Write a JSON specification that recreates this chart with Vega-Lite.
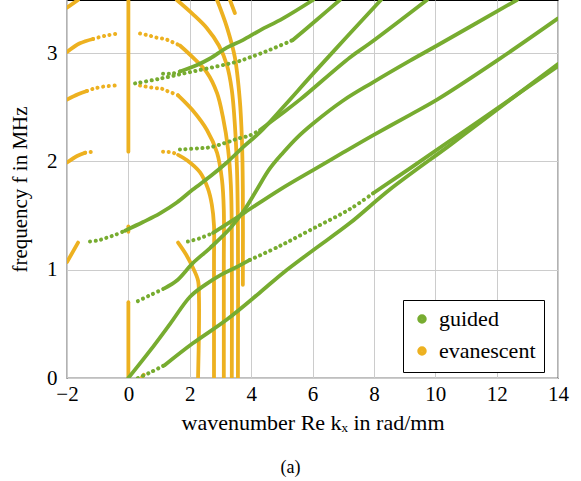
{
"$schema":"https://vega.github.io/schema/vega-lite/v6.json",
"width":491,"height":378,
"autosize":{"type":"none"},
"padding":{"left":67,"top":0,"right":23,"bottom":103},
"title":{"text":"(a)","orient":"bottom","anchor":"middle","offset":26,"dx":-22,"fontSize":18,"font":"Liberation Serif","fontWeight":"normal","color":"#000"},
"config":{"view":{"stroke":"#000","strokeWidth":1.2},"font":"Liberation Serif",
 "axis":{"labelFont":"Liberation Serif","titleFont":"Liberation Serif"},
 "legend":{"labelFont":"Liberation Serif"},
 "style":{"guide-label":{"font":"Liberation Serif"},"guide-title":{"font":"Liberation Serif"}}},
"data":{"values":[
{"c":"o_v0","t":"evanescent","k":0,"f":0},{"c":"o_v0","t":"evanescent","k":0,"f":0.70},
{"c":"o_v1","t":"evanescent","k":0,"f":2.09},{"c":"o_v1","t":"evanescent","k":0,"f":3.49},
{"c":"o_p1","t":"evanescent","k":0,"f":1.35},{"c":"o_p1","t":"evanescent","k":0,"f":1.40},
{"c":"o_p2","t":"evanescent","k":0.45,"f":0.01},{"c":"o_p2","t":"evanescent","k":0.50,"f":0.03},
{"c":"a0L","t":"evanescent","k":-2.0,"f":3.42},{"c":"a0L","t":"evanescent","k":-1.64,"f":3.49},
{"c":"a0R","t":"evanescent","k":1.58,"f":3.49},{"c":"a0R","t":"evanescent","k":2.10,"f":3.36},{"c":"a0R","t":"evanescent","k":2.56,"f":3.23},{"c":"a0R","t":"evanescent","k":2.95,"f":3.07},{"c":"a0R","t":"evanescent","k":3.21,"f":2.89},{"c":"a0R","t":"evanescent","k":3.37,"f":2.66},{"c":"a0R","t":"evanescent","k":3.47,"f":2.34},{"c":"a0R","t":"evanescent","k":3.54,"f":1.92},{"c":"a0R","t":"evanescent","k":3.57,"f":1.37},{"c":"a0R","t":"evanescent","k":3.57,"f":0},
{"c":"t2","t":"evanescent","k":2.89,"f":3.49},{"c":"t2","t":"evanescent","k":3.21,"f":3.24},{"c":"t2","t":"evanescent","k":3.47,"f":2.96},{"c":"t2","t":"evanescent","k":3.63,"f":2.57},{"c":"t2","t":"evanescent","k":3.70,"f":2.20},{"c":"t2","t":"evanescent","k":3.73,"f":1.74},{"c":"t2","t":"evanescent","k":3.73,"f":0.86},
{"c":"t3","t":"evanescent","k":3.31,"f":3.49},{"c":"t3","t":"evanescent","k":3.47,"f":3.37},
{"c":"a1L","t":"evanescent","k":-2.0,"f":3.01},{"c":"a1L","t":"evanescent","k":-1.58,"f":3.09},{"c":"a1L","t":"evanescent","k":-1.15,"f":3.13},
{"c":"a1Ld","t":"evanescent","k":-1.15,"f":3.13},{"c":"a1Ld","t":"evanescent","k":-0.76,"f":3.16},{"c":"a1Ld","t":"evanescent","k":-0.34,"f":3.18},
{"c":"a1Rd","t":"evanescent","k":0.38,"f":3.18},{"c":"a1Rd","t":"evanescent","k":0.70,"f":3.16},{"c":"a1Rd","t":"evanescent","k":0.96,"f":3.14},{"c":"a1Rd","t":"evanescent","k":1.19,"f":3.13},{"c":"a1Rd","t":"evanescent","k":1.36,"f":3.11},{"c":"a1Rd","t":"evanescent","k":1.52,"f":3.09},{"c":"a1Rd","t":"evanescent","k":1.68,"f":3.07},
{"c":"a1R","t":"evanescent","k":1.68,"f":3.07},{"c":"a1R","t":"evanescent","k":2.10,"f":2.96},{"c":"a1R","t":"evanescent","k":2.56,"f":2.82},{"c":"a1R","t":"evanescent","k":2.89,"f":2.63},{"c":"a1R","t":"evanescent","k":3.08,"f":2.41},{"c":"a1R","t":"evanescent","k":3.25,"f":2.11},{"c":"a1R","t":"evanescent","k":3.34,"f":1.78},{"c":"a1R","t":"evanescent","k":3.37,"f":1.37},{"c":"a1R","t":"evanescent","k":3.37,"f":0},
{"c":"a2L","t":"evanescent","k":-2.0,"f":2.57},{"c":"a2L","t":"evanescent","k":-1.64,"f":2.62},{"c":"a2L","t":"evanescent","k":-1.35,"f":2.65},
{"c":"a2Ld","t":"evanescent","k":-1.35,"f":2.65},{"c":"a2Ld","t":"evanescent","k":-1.15,"f":2.67},{"c":"a2Ld","t":"evanescent","k":-0.83,"f":2.69},{"c":"a2Ld","t":"evanescent","k":-0.44,"f":2.70},
{"c":"a2Rd","t":"evanescent","k":0.38,"f":2.70},{"c":"a2Rd","t":"evanescent","k":0.80,"f":2.68},{"c":"a2Rd","t":"evanescent","k":1.09,"f":2.67},{"c":"a2Rd","t":"evanescent","k":1.26,"f":2.65},{"c":"a2Rd","t":"evanescent","k":1.45,"f":2.63},{"c":"a2Rd","t":"evanescent","k":1.62,"f":2.61},
{"c":"a2R","t":"evanescent","k":1.62,"f":2.61},{"c":"a2R","t":"evanescent","k":2.10,"f":2.47},{"c":"a2R","t":"evanescent","k":2.56,"f":2.29},{"c":"a2R","t":"evanescent","k":2.89,"f":2.08},{"c":"a2R","t":"evanescent","k":3.05,"f":1.83},{"c":"a2R","t":"evanescent","k":3.11,"f":1.55},{"c":"a2R","t":"evanescent","k":3.11,"f":1.09},{"c":"a2R","t":"evanescent","k":3.11,"f":0},
{"c":"a3L","t":"evanescent","k":-2.0,"f":1.99},{"c":"a3L","t":"evanescent","k":-1.67,"f":2.05},{"c":"a3L","t":"evanescent","k":-1.41,"f":2.08},
{"c":"a3Ld","t":"evanescent","k":-1.41,"f":2.08},{"c":"a3Ld","t":"evanescent","k":-1.15,"f":2.09},
{"c":"a3Rd","t":"evanescent","k":1.13,"f":2.09},{"c":"a3Rd","t":"evanescent","k":1.45,"f":2.08},{"c":"a3Rd","t":"evanescent","k":1.62,"f":2.06},
{"c":"a3R","t":"evanescent","k":1.62,"f":2.06},{"c":"a3R","t":"evanescent","k":1.91,"f":2.01},{"c":"a3R","t":"evanescent","k":2.33,"f":1.90},{"c":"a3R","t":"evanescent","k":2.59,"f":1.75},{"c":"a3R","t":"evanescent","k":2.72,"f":1.60},{"c":"a3R","t":"evanescent","k":2.79,"f":1.41},{"c":"a3R","t":"evanescent","k":2.79,"f":1.09},{"c":"a3R","t":"evanescent","k":2.79,"f":0},
{"c":"a4L","t":"evanescent","k":-2.0,"f":1.07},{"c":"a4L","t":"evanescent","k":-1.64,"f":1.25},
{"c":"a4R","t":"evanescent","k":1.62,"f":1.25},{"c":"a4R","t":"evanescent","k":1.88,"f":1.14},{"c":"a4R","t":"evanescent","k":2.10,"f":1.02},{"c":"a4R","t":"evanescent","k":2.27,"f":0.90},{"c":"a4R","t":"evanescent","k":2.30,"f":0.75},{"c":"a4R","t":"evanescent","k":2.30,"f":0.44},{"c":"a4R","t":"evanescent","k":2.27,"f":0},
{"c":"g1d","t":"guided","k":0.31,"f":0},{"c":"g1d","t":"guided","k":0.70,"f":0.05},{"c":"g1d","t":"guided","k":1.19,"f":0.12},
{"c":"g1","t":"guided","k":1.19,"f":0.12},{"c":"g1","t":"guided","k":2.10,"f":0.32},{"c":"g1","t":"guided","k":3.21,"f":0.54},{"c":"g1","t":"guided","k":4.29,"f":0.79},{"c":"g1","t":"guided","k":5.04,"f":0.97},{"c":"g1","t":"guided","k":6.02,"f":1.18},{"c":"g1","t":"guided","k":7.22,"f":1.43},{"c":"g1","t":"guided","k":8.52,"f":1.74},{"c":"g1","t":"guided","k":10.48,"f":2.15},{"c":"g1","t":"guided","k":11.46,"f":2.36},{"c":"g1","t":"guided","k":14.0,"f":2.90},
{"c":"gA","t":"guided","k":0,"f":0},{"c":"gA","t":"guided","k":0.70,"f":0.25},{"c":"gA","t":"guided","k":1.36,"f":0.50},{"c":"gA","t":"guided","k":2.01,"f":0.75},{"c":"gA","t":"guided","k":2.50,"f":0.86},{"c":"gA","t":"guided","k":3.0,"f":0.95},{"c":"gA","t":"guided","k":3.5,"f":1.02},{"c":"gA","t":"guided","k":3.96,"f":1.09},
{"c":"gAd","t":"guided","k":3.96,"f":1.09},{"c":"gAd","t":"guided","k":4.94,"f":1.22},{"c":"gAd","t":"guided","k":6.02,"f":1.38},{"c":"gAd","t":"guided","k":7.22,"f":1.56},{"c":"gAd","t":"guided","k":8.0,"f":1.71},
{"c":"gA2","t":"guided","k":8.0,"f":1.71},{"c":"gA2","t":"guided","k":9.2,"f":1.94},{"c":"gA2","t":"guided","k":10.48,"f":2.19},{"c":"gA2","t":"guided","k":11.46,"f":2.38},{"c":"gA2","t":"guided","k":14.0,"f":2.88},
{"c":"gDd","t":"guided","k":0.31,"f":0.71},{"c":"gDd","t":"guided","k":0.75,"f":0.77},{"c":"gDd","t":"guided","k":1.19,"f":0.83},
{"c":"gD","t":"guided","k":1.19,"f":0.83},{"c":"gD","t":"guided","k":1.58,"f":0.90},{"c":"gD","t":"guided","k":2.10,"f":1.06},{"c":"gD","t":"guided","k":2.66,"f":1.20},{"c":"gD","t":"guided","k":3.31,"f":1.38},{"c":"gD","t":"guided","k":3.80,"f":1.56},{"c":"gD","t":"guided","k":4.19,"f":1.74},{"c":"gD","t":"guided","k":4.6,"f":1.93},{"c":"gD","t":"guided","k":5.04,"f":2.08},{"c":"gD","t":"guided","k":5.5,"f":2.22},{"c":"gD","t":"guided","k":6.02,"f":2.35},{"c":"gD","t":"guided","k":6.99,"f":2.56},{"c":"gD","t":"guided","k":7.97,"f":2.73},{"c":"gD","t":"guided","k":9.18,"f":2.93},{"c":"gD","t":"guided","k":10.06,"f":3.07},{"c":"gD","t":"guided","k":12.66,"f":3.49},
{"c":"gCd","t":"guided","k":1.94,"f":1.26},{"c":"gCd","t":"guided","k":2.33,"f":1.29},{"c":"gCd","t":"guided","k":2.76,"f":1.34},
{"c":"gC","t":"guided","k":2.76,"f":1.34},{"c":"gC","t":"guided","k":3.80,"f":1.53},{"c":"gC","t":"guided","k":4.94,"f":1.74},{"c":"gC","t":"guided","k":6.02,"f":1.92},{"c":"gC","t":"guided","k":6.99,"f":2.08},{"c":"gC","t":"guided","k":7.97,"f":2.24},{"c":"gC","t":"guided","k":9.18,"f":2.43},{"c":"gC","t":"guided","k":10.06,"f":2.57},{"c":"gC","t":"guided","k":12.01,"f":2.93},{"c":"gC","t":"guided","k":14.0,"f":3.32},
{"c":"gBd","t":"guided","k":-1.25,"f":1.26},{"c":"gBd","t":"guided","k":-0.99,"f":1.27},{"c":"gBd","t":"guided","k":-0.76,"f":1.29},{"c":"gBd","t":"guided","k":-0.44,"f":1.32},{"c":"gBd","t":"guided","k":-0.11,"f":1.36},
{"c":"gB","t":"guided","k":-0.11,"f":1.36},{"c":"gB","t":"guided","k":0.48,"f":1.44},{"c":"gB","t":"guided","k":1.03,"f":1.52},{"c":"gB","t":"guided","k":1.58,"f":1.62},{"c":"gB","t":"guided","k":2.10,"f":1.74},{"c":"gB","t":"guided","k":2.66,"f":1.86},{"c":"gB","t":"guided","k":3.21,"f":1.99},{"c":"gB","t":"guided","k":3.73,"f":2.13},{"c":"gB","t":"guided","k":4.29,"f":2.27},{"c":"gB","t":"guided","k":5.04,"f":2.50},{"c":"gB","t":"guided","k":6.02,"f":2.81},{"c":"gB","t":"guided","k":7.12,"f":3.15},{"c":"gB","t":"guided","k":8.23,"f":3.49},
{"c":"gEd","t":"guided","k":1.68,"f":2.11},{"c":"gEd","t":"guided","k":2.27,"f":2.12},{"c":"gEd","t":"guided","k":2.66,"f":2.13},{"c":"gEd","t":"guided","k":3.15,"f":2.17},{"c":"gEd","t":"guided","k":3.57,"f":2.21},{"c":"gEd","t":"guided","k":3.96,"f":2.24},{"c":"gEd","t":"guided","k":4.29,"f":2.29},
{"c":"gE","t":"guided","k":4.29,"f":2.29},{"c":"gE","t":"guided","k":5.04,"f":2.45},{"c":"gE","t":"guided","k":5.59,"f":2.57},{"c":"gE","t":"guided","k":7.22,"f":2.96},{"c":"gE","t":"guided","k":7.87,"f":3.09},{"c":"gE","t":"guided","k":9.73,"f":3.49},
{"c":"gad","t":"guided","k":1.13,"f":2.81},{"c":"gad","t":"guided","k":1.42,"f":2.81},{"c":"gad","t":"guided","k":1.68,"f":2.83},
{"c":"ga","t":"guided","k":1.68,"f":2.83},{"c":"ga","t":"guided","k":2.24,"f":2.89},{"c":"ga","t":"guided","k":2.66,"f":2.95},{"c":"ga","t":"guided","k":3.21,"f":3.05},{"c":"ga","t":"guided","k":3.73,"f":3.12},{"c":"ga","t":"guided","k":4.29,"f":3.21},{"c":"ga","t":"guided","k":5.04,"f":3.32},{"c":"ga","t":"guided","k":6.02,"f":3.49},
{"c":"gbd","t":"guided","k":0.22,"f":2.72},{"c":"gbd","t":"guided","k":0.96,"f":2.76},{"c":"gbd","t":"guided","k":2.10,"f":2.83},{"c":"gbd","t":"guided","k":3.54,"f":2.92},{"c":"gbd","t":"guided","k":3.96,"f":2.96},{"c":"gbd","t":"guided","k":4.61,"f":3.03},{"c":"gbd","t":"guided","k":5.36,"f":3.12},
{"c":"gb","t":"guided","k":5.36,"f":3.12},{"c":"gb","t":"guided","k":6.15,"f":3.31},{"c":"gb","t":"guided","k":6.89,"f":3.49}
]},
"transform":[{"window":[{"op":"row_number","as":"i"}]}],
"encoding":{
 "x":{"field":"k","type":"quantitative","scale":{"domain":[-2,14],"nice":false,"zero":false},
  "axis":{"values":[-2,0,2,4,6,8,10,12,14],"title":"wavenumber Re kₓ in rad/mm","grid":true,"gridColor":"#cccccc","gridWidth":1,"domain":false,"ticks":false,"labelFlush":false,"labelPadding":5,"labelFontSize":21,"labelFont":"Liberation Serif","labelColor":"#000","titleFont":"Liberation Serif","titleFontSize":22,"titleFontWeight":"normal","titleColor":"#000","titlePadding":8,
   "encode":{"labels":{"update":{"font":{"value":"Liberation Serif"}}}}}},
 "y":{"field":"f","type":"quantitative","scale":{"domain":[0,3.49],"nice":false,"zero":false},
  "axis":{"values":[0,1,2,3],"title":"frequency f in MHz","grid":true,"gridColor":"#cccccc","gridWidth":1,"domain":false,"ticks":false,"labelFlush":false,"labelPadding":10,"labelFontSize":21,"labelFont":"Liberation Serif","labelColor":"#000","titleFont":"Liberation Serif","titleFontSize":21,"titleFontWeight":"normal","titleColor":"#000","titlePadding":16,
   "encode":{"labels":{"update":{"font":{"value":"Liberation Serif"}}}}}},
 "color":{"field":"t","type":"nominal","scale":{"domain":["guided","evanescent"],"range":["#77AC30","#EDB120"]},
  "legend":{"title":null,"orient":"none","legendX":336,"legendY":300,"fillColor":"#ffffff","strokeColor":"#000000","padding":8,"symbolType":"circle","symbolSize":20,"symbolStrokeWidth":5,"labelFontSize":22,"labelFont":"Liberation Serif","labelColor":"#000","rowPadding":6,"labelOffset":6,
   "encode":{"labels":{"update":{"font":{"value":"Liberation Serif"}}}}}},
 "detail":{"field":"c","type":"nominal"},
 "order":{"field":"i","type":"quantitative"}
},
"layer":[
 {"transform":[{"filter":"datum.t == 'evanescent' && indexof(['a1Ld','a1Rd','a2Ld','a2Rd','a3Ld','a3Rd'], datum.c) < 0"}],
  "mark":{"type":"line","strokeWidth":3.8,"strokeCap":"round","interpolate":"catmull-rom","clip":true}},
 {"transform":[{"filter":"indexof(['a1Ld','a1Rd','a2Ld','a2Rd','a3Ld','a3Rd'], datum.c) >= 0"}],
  "mark":{"type":"line","strokeWidth":4,"strokeCap":"round","strokeDash":[0.1,5.5],"interpolate":"catmull-rom","clip":true}},
 {"transform":[{"filter":"datum.t == 'guided' && indexof(['g1d','gAd','gDd','gCd','gBd','gEd','gad','gbd'], datum.c) < 0"}],
  "mark":{"type":"line","strokeWidth":3.8,"strokeCap":"round","interpolate":"catmull-rom","clip":true}},
 {"transform":[{"filter":"indexof(['g1d','gAd','gDd','gCd','gBd','gEd','gad','gbd'], datum.c) >= 0"}],
  "mark":{"type":"line","strokeWidth":4,"strokeCap":"round","strokeDash":[0.1,5.5],"interpolate":"catmull-rom","clip":true}}
]
}
